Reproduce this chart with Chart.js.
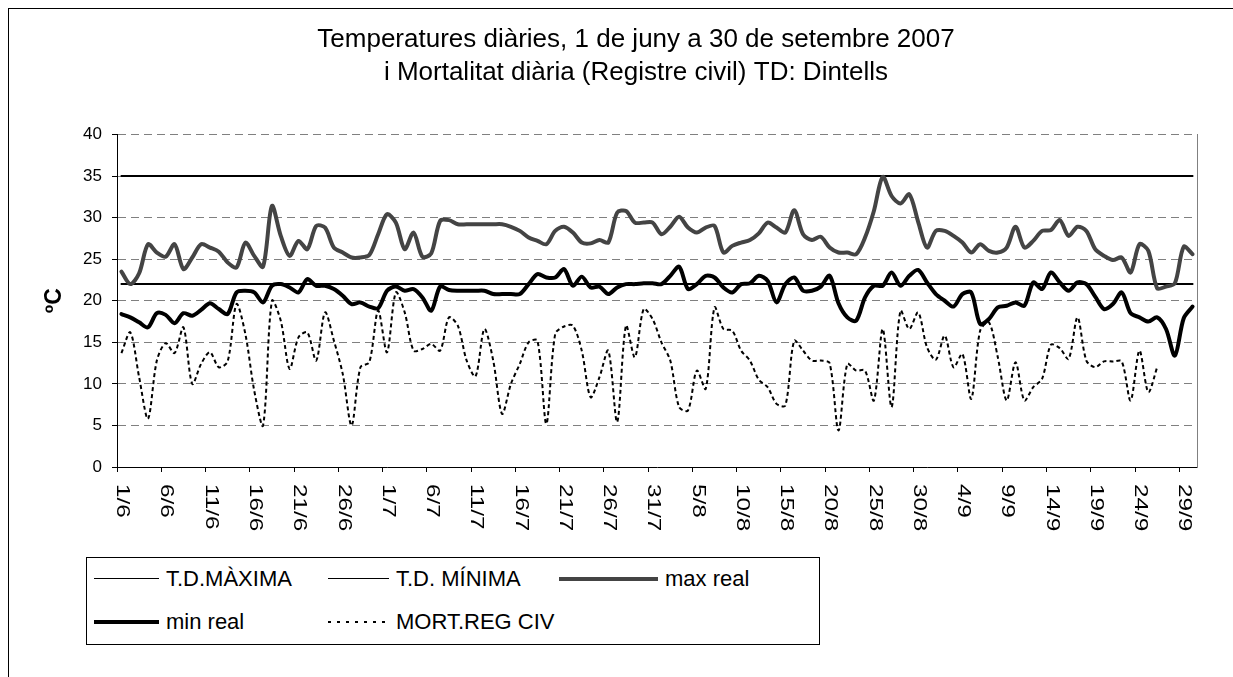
<!DOCTYPE html>
<html>
<head>
<meta charset="utf-8">
<script src="https://cdn.jsdelivr.net/npm/chart.js@4.4.0/dist/chart.umd.min.js"></script>
<style>
  html, body { margin: 0; padding: 0; background: #fff; width: 1233px; height: 677px; overflow: hidden; }
  #frame { position: absolute; left: 8px; top: 8px; width: 1400px; height: 900px; border: 1px solid #000; box-sizing: border-box; }
  #wrap { position: absolute; left: 0; top: 0; width: 1233px; height: 677px; }
  #legend { position: absolute; left: 86px; top: 557px; width: 734px; height: 88px; border: 1px solid #000; box-sizing: border-box; background: #fff;
            font-family: 'Liberation Sans', Arial, sans-serif; font-size: 22px; color: #000; }
  .li-line { position: absolute; }
  .li-text { position: absolute; line-height: 26px; height: 26px; white-space: nowrap; }
</style>
</head>
<body>
<div id="frame"></div>
<div id="wrap"><canvas id="c" width="1233" height="677"></canvas></div>
<div id="legend"></div>
<script>
// ---------- DATA ----------
const categories = [
  "1/6","2/6","3/6","4/6","5/6","6/6","7/6","8/6","9/6","10/6","11/6","12/6","13/6","14/6","15/6",
  "16/6","17/6","18/6","19/6","20/6","21/6","22/6","23/6","24/6","25/6","26/6","27/6","28/6","29/6","30/6",
  "1/7","2/7","3/7","4/7","5/7","6/7","7/7","8/7","9/7","10/7","11/7","12/7","13/7","14/7","15/7","16/7",
  "17/7","18/7","19/7","20/7","21/7","22/7","23/7","24/7","25/7","26/7","27/7","28/7","29/7","30/7","31/7",
  "1/8","2/8","3/8","4/8","5/8","6/8","7/8","8/8","9/8","10/8","11/8","12/8","13/8","14/8","15/8","16/8",
  "17/8","18/8","19/8","20/8","21/8","22/8","23/8","24/8","25/8","26/8","27/8","28/8","29/8","30/8","31/8",
  "1/9","2/9","3/9","4/9","5/9","6/9","7/9","8/9","9/9","10/9","11/9","12/9","13/9","14/9","15/9",
  "16/9","17/9","18/9","19/9","20/9","21/9","22/9","23/9","24/9","25/9","26/9","27/9","28/9","29/9","30/9"
];
const tickLabelEvery = 5;

const tdMaxima = 35;   // T.D.MÀXIMA threshold
const tdMinima = 22;   // T.D. MÍNIMA threshold

const maxReal = [
  23.5,22.0,23.3,26.8,25.8,25.3,26.8,23.8,25.2,26.8,26.4,25.9,24.6,24.0,27.0,
  25.4,24.1,31.4,27.8,25.4,27.2,26.2,29.0,28.8,26.4,25.8,25.2,25.2,25.5,28.0,
  30.4,29.4,26.2,28.2,25.3,25.7,29.6,29.7,29.2,29.2,29.2,29.2,29.2,29.2,28.9,28.4,
  27.6,27.2,26.8,28.4,28.9,28.2,27.0,26.9,27.3,27.0,30.6,30.8,29.4,29.4,29.4,
  28.0,28.9,30.1,28.8,28.2,28.8,29.0,25.8,26.6,27.0,27.3,28.1,29.4,28.8,28.2,30.9,
  28.0,27.3,27.7,26.4,25.8,25.8,25.6,27.6,30.8,34.9,32.6,31.7,32.8,29.5,26.4,
  28.4,28.4,27.8,27.0,25.8,26.8,26.0,25.8,26.4,28.9,26.4,27.2,28.4,28.5,29.7,
  27.8,28.9,28.4,26.2,25.4,24.9,25.2,23.4,26.8,26.0,21.5,21.7,22.1,26.5,25.6
];
const minReal = [
  18.4,18.0,17.4,16.8,18.5,18.3,17.3,18.5,18.2,18.9,19.7,19.0,18.4,21.0,21.2,
  21.0,19.8,21.8,22.0,21.6,21.0,22.6,21.8,21.8,21.4,20.6,19.6,19.8,19.3,19.1,
  21.2,21.7,21.2,21.4,20.4,18.8,21.7,21.3,21.2,21.2,21.2,21.2,20.8,20.8,20.8,20.8,
  22.0,23.2,22.8,22.8,23.8,21.8,22.9,21.6,21.7,20.8,21.6,22.0,22.0,22.1,22.1,
  22.0,23.0,24.1,21.4,22.0,23.0,22.8,21.6,21.0,22.0,22.1,23.0,22.4,19.8,22.0,22.8,
  21.2,21.2,21.7,23.0,19.7,18.0,17.6,20.4,21.8,21.8,23.4,21.8,23.0,23.7,22.2,
  20.8,20.0,19.3,20.8,21.0,17.2,17.8,19.2,19.4,19.8,19.4,22.2,21.4,23.4,22.2,
  21.2,22.2,22.0,20.5,19.0,19.6,21.0,18.5,18.0,17.5,18.0,16.6,13.4,17.9,19.3
];
const mortRegCiv = [
  13.7,16.2,10.8,5.8,12.8,14.9,13.7,16.8,10.0,12.4,13.8,12.0,12.7,19.6,16.0,
  9.2,5.0,20.0,17.6,11.8,15.6,16.2,12.8,18.6,15.2,11.2,5.0,12.0,12.6,18.8,
  13.8,21.0,18.6,14.0,14.2,14.8,14.0,18.0,17.0,12.8,10.9,16.6,12.8,6.4,10.0,12.4,
  15.0,15.2,5.2,16.0,16.9,17.0,14.0,8.4,10.8,14.0,5.4,17.0,13.2,19.0,17.8,
  15.0,12.8,7.2,6.8,11.6,9.4,19.2,16.6,16.4,14.0,12.8,10.5,9.6,7.6,7.4,15.2,
  14.0,12.8,12.8,12.5,4.4,12.4,11.6,11.6,8.0,16.6,7.2,18.8,16.6,18.6,14.4,
  12.9,15.8,12.0,13.6,8.2,16.4,17.4,13.2,8.0,12.6,8.0,9.6,10.6,14.7,14.3,
  13.0,18.0,12.8,12.0,12.7,12.7,12.7,8.0,14.0,9.0,12.0,null,null,null,null
];
const yMin = 0, yMax = 40, yStep = 5;

// ---------- CHART ----------
const FONT = "'Liberation Sans', Arial, Helvetica, sans-serif";
Chart.defaults.font.family = FONT;
Chart.defaults.color = '#000';

const xLabelPlugin = {
  id: 'xLabelsRotated',
  afterDraw(chart) {
    const sx = chart.scales.x;
    const ctx = chart.ctx;
    ctx.save();
    ctx.fillStyle = '#000';
    ctx.font = "19px " + FONT;
    ctx.textAlign = 'left';
    ctx.textBaseline = 'middle';
    categories.forEach((lab, i) => {
      if (i % tickLabelEvery !== 0) return;
      const x = sx.getPixelForValue(i);
      ctx.save();
      ctx.translate(x + 1, sx.bottom + 12);
      ctx.rotate(Math.PI / 2);
      ctx.scale(1.28, 1);
      ctx.fillText(lab, 0, 0);
      ctx.restore();
    });
    ctx.restore();
  }
};

const common = { pointRadius: 0, pointHoverRadius: 0, fill: false, tension: 0.3, borderJoinStyle: 'round', borderCapStyle: 'round' };

const datasets = [
  Object.assign({ label: 'T.D.MÀXIMA', data: categories.map(() => tdMaxima), borderColor: '#000', borderWidth: 2, order: 5 }, common, { tension: 0 }),
  Object.assign({ label: 'T.D. MÍNIMA', data: categories.map(() => tdMinima), borderColor: '#000', borderWidth: 2, order: 4 }, common, { tension: 0 }),
  Object.assign({ label: 'max real', data: maxReal, borderColor: '#444444', borderWidth: 4, order: 3 }, common),
  Object.assign({ label: 'min real', data: minReal, borderColor: '#000', borderWidth: 4, order: 2 }, common),
  Object.assign({ label: 'MORT.REG CIV', data: mortRegCiv, borderColor: '#000', borderWidth: 2, borderDash: [4, 3], order: 1 }, common, { borderCapStyle: 'butt' })
];

const chart = new Chart(document.getElementById('c'), {
  type: 'line',
  data: { labels: categories, datasets },
  options: {
    responsive: false,
    devicePixelRatio: 1,
    animation: false,
    events: [],
    layout: { padding: { left: 39, right: 0, top: 0, bottom: 205 } },
    plugins: {
      legend: { display: false },
      tooltip: { enabled: false },
      title: {
        display: true,
        fullSize: true,
        text: ['Temperatures diàries, 1 de juny a 30 de setembre 2007', 'i Mortalitat diària (Registre civil) TD: Dintells'],
        font: { size: 26, weight: 'normal', lineHeight: 1.24 },
        color: '#000',
        padding: { top: 24, bottom: 46 }
      }
    },
    scales: {
      x: {
        type: 'category',
        offset: true,
        grid: {
          offset: true,
          drawOnChartArea: false,
          drawTicks: true,
          tickLength: 5,
          color: '#000',
          tickColor: (c) => (c.index !== undefined && c.index % tickLabelEvery === 0) ? '#000' : 'rgba(0,0,0,0)'
        },
        border: { color: '#000', width: 1 },
        ticks: { display: false, autoSkip: false },
        afterFit(s) { s.height = 5; }
      },
      y: {
        min: yMin, max: yMax,
        ticks: { stepSize: yStep, padding: 10, color: '#000', font: { size: 17 } },
        grid: {
          color: (c) => (c.tick && c.tick.value === 0) ? 'rgba(0,0,0,0)' : '#808080',
          lineWidth: 1, drawTicks: true, tickLength: 5, tickColor: '#000'
        },
        border: { color: '#000', width: 1, dash: [8, 5] },
        title: { display: true, text: 'ºC', font: { size: 23, weight: 'bold' }, color: '#000', padding: { top: 2, bottom: 0 } },
        afterFit(s) { s.width = 78; }
      },
      y2: {
        position: 'right',
        min: yMin, max: yMax,
        grid: { display: false },
        ticks: { display: false },
        border: { display: true, color: '#808080', width: 1 },
        afterFit(s) { s.width = 36; }
      }
    }
  },
  plugins: [xLabelPlugin]
});

// ---------- HTML LEGEND (built from the chart datasets) ----------
const legendSlots = [
  { x: 7,   y: 21, len: 65 },
  { x: 241, y: 21, len: 61 },
  { x: 472, y: 21, len: 99 },
  { x: 7,   y: 64, len: 65 },
  { x: 241, y: 64, len: 61 }
];
const legendEl = document.getElementById('legend');
chart.data.datasets.forEach((ds, i) => {
  const s = legendSlots[i];
  const line = document.createElement('div');
  line.className = 'li-line';
  const w = ds.borderDash ? 2 : (ds.borderWidth === 2 ? 1 : ds.borderWidth);
  line.style.left = s.x + 'px';
  line.style.width = s.len + 'px';
  line.style.height = w + 'px';
  line.style.top = (s.y - Math.ceil(w / 2)) + 'px';
  line.style.background = ds.borderDash
    ? 'repeating-linear-gradient(to right, #000 0 3px, transparent 3px 9px)'
    : ds.borderColor;
  legendEl.appendChild(line);
  const t = document.createElement('span');
  t.className = 'li-text';
  t.textContent = ds.label;
  t.style.left = (s.x + s.len + 7) + 'px';
  t.style.top = (s.y - 13) + 'px';
  legendEl.appendChild(t);
});
</script>
</body>
</html>
